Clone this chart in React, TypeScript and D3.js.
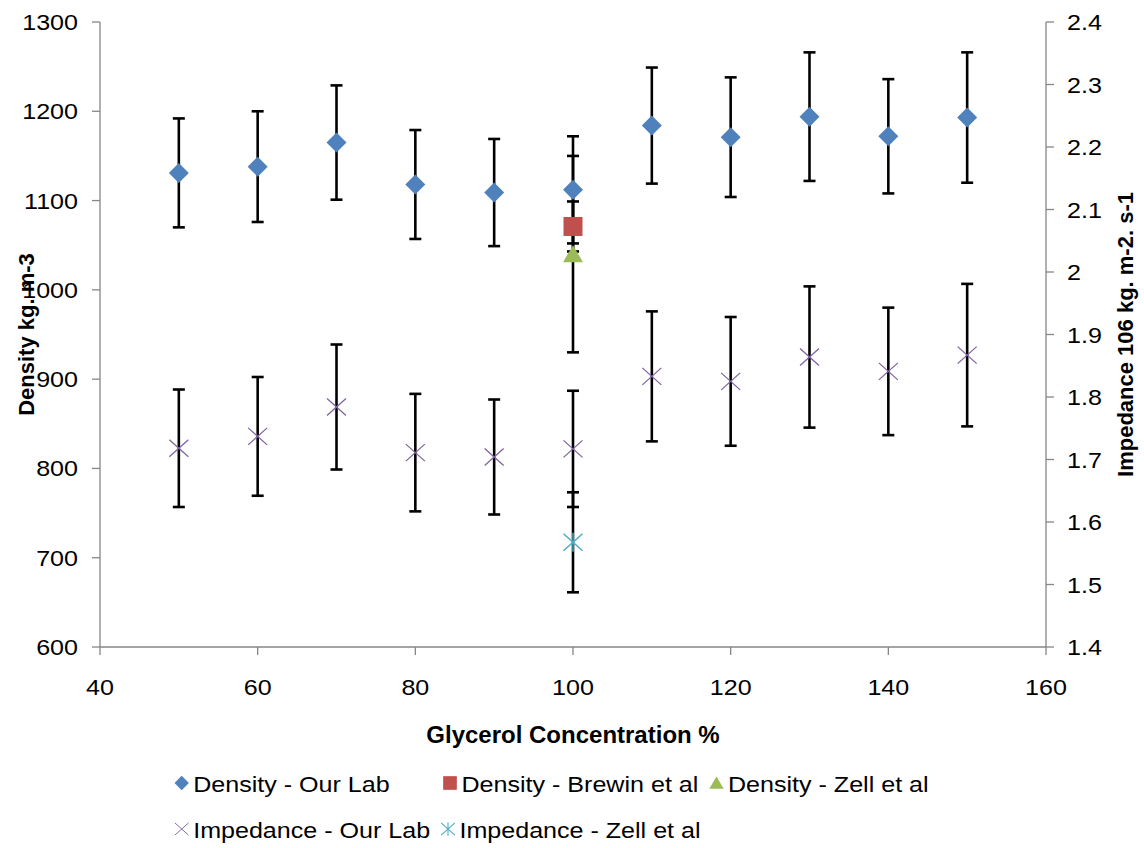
import React from "react";
import * as d3 from "d3";

// ---- data ----
const concentration = [50, 60, 70, 80, 90, 100, 110, 120, 130, 140, 150];
const densityOurLab = [1131, 1138, 1165, 1118, 1109, 1112, 1184, 1171, 1194, 1172, 1193];
const densityOurLabErr = [61, 62, 64, 61, 60, 60, 65, 67, 72, 64, 73];
const densityBrewin = [{ x: 100, y: 1071, err: 28 }];
const densityZell = [{ x: 100, y: 1040, err: 110 }];
const impedanceOurLab = [1.718, 1.737, 1.784, 1.711, 1.704, 1.717, 1.833, 1.825, 1.864, 1.841, 1.867];
const impedanceOurLabErr = [0.094, 0.095, 0.1, 0.094, 0.092, 0.093, 0.104, 0.103, 0.113, 0.102, 0.114];
const impedanceZell = [{ x: 100, y: 1.5675, err: 0.08 }];

const xTicks = [40, 60, 80, 100, 120, 140, 160];
const yLeftTicks = [600, 700, 800, 900, 1000, 1100, 1200, 1300];
const yRightTicks = [1.4, 1.5, 1.6, 1.7, 1.8, 1.9, 2, 2.1, 2.2, 2.3, 2.4];

const COLORS = {
  density: "#4F81BD",
  brewin: "#C0504D",
  zell: "#9BBB59",
  impedance: "#8064A2",
  impZell: "#4BACC6",
  axis: "#868686",
};

const FONT = "'Liberation Sans', Arial, sans-serif";

// ---- layout ----
const W = 1144;
const H = 848;
const plot = { left: 100, right: 1046, top: 22, bottom: 647 };

const x = d3.scaleLinear().domain([40, 160]).range([plot.left, plot.right]);
const yL = d3.scaleLinear().domain([600, 1300]).range([plot.bottom, plot.top]);
const yR = d3.scaleLinear().domain([1.4, 2.4]).range([plot.bottom, plot.top]);

type Shape = "diamond" | "square" | "triangle" | "x" | "star";

function Marker({ shape, cx, cy }: { shape: Shape; cx: number; cy: number }) {
  const t = `translate(${cx},${cy})`;
  if (shape === "diamond")
    return <path transform={t} d="M0,-10L10,0L0,10L-10,0Z" fill={COLORS.density} />;
  if (shape === "square")
    return <rect transform={t} x={-9.5} y={-9.5} width={19} height={19} fill={COLORS.brewin} />;
  if (shape === "triangle")
    return <path transform={t} d="M0,-9L10,8L-10,8Z" fill={COLORS.zell} />;
  if (shape === "x")
    return (
      <path transform={t} d="M-9.5,-8.5L9.5,8.5M-9.5,8.5L9.5,-8.5" stroke={COLORS.impedance} strokeWidth={1.3} fill="none" />
    );
  return (
    <path
      transform={t}
      d="M-9.5,-8.5L9.5,8.5M-9.5,8.5L9.5,-8.5M0,-9.5L0,9.5"
      stroke={COLORS.impZell}
      strokeWidth={1.5}
      fill="none"
    />
  );
}

function ErrorBar({ px, y0, y1 }: { px: number; y0: number; y1: number }) {
  const cap = 6;
  return (
    <g stroke="#000" strokeWidth={2.6} fill="none">
      <line x1={px} x2={px} y1={y0} y2={y1} />
      <line x1={px - cap} x2={px + cap} y1={y0} y2={y0} />
      <line x1={px - cap} x2={px + cap} y1={y1} y2={y1} />
    </g>
  );
}

function HText({ x: tx, y: ty, anchor, children, size = 22, sx = 1.14, weight = "normal" }: any) {
  return (
    <text
      transform={`translate(${tx},${ty}) scale(${sx},1)`}
      textAnchor={anchor}
      fontFamily={FONT}
      fontSize={size}
      fontWeight={weight}
      fill="#000"
    >
      {children}
    </text>
  );
}

export default function App() {
  const densPts = concentration.map((c, i) => ({ x: c, y: densityOurLab[i], err: densityOurLabErr[i] }));
  const impPts = concentration.map((c, i) => ({ x: c, y: impedanceOurLab[i], err: impedanceOurLabErr[i] }));

  const legendRow1 = [
    { shape: "diamond" as Shape, label: "Density - Our Lab", lx: 181.7, ly: 783 },
    { shape: "square" as Shape, label: "Density - Brewin et al", lx: 450, ly: 783 },
    { shape: "triangle" as Shape, label: "Density - Zell et al", lx: 716.5, ly: 783 },
    { shape: "x" as Shape, label: "Impedance - Our Lab", lx: 181.7, ly: 829 },
    { shape: "star" as Shape, label: "Impedance - Zell et al", lx: 448, ly: 829 },
  ];

  return (
    <svg
      width={W}
      height={H}
      viewBox={`0 0 ${W} ${H}`}
      style={{ position: "absolute", left: 0, top: 0, background: "#fff" }}
    >
      <rect width={W} height={H} fill="#fff" />

      {/* axes */}
      <g stroke={COLORS.axis} strokeWidth={1.3} fill="none">
        <line x1={plot.left} x2={plot.left} y1={plot.top} y2={plot.bottom} />
        <line x1={plot.right} x2={plot.right} y1={plot.top} y2={plot.bottom} />
        <line x1={plot.left} x2={plot.right} y1={plot.bottom} y2={plot.bottom} />
        {yLeftTicks.map((t) => (
          <line key={"l" + t} x1={plot.left - 8} x2={plot.left} y1={yL(t)} y2={yL(t)} />
        ))}
        {yRightTicks.map((t) => (
          <line key={"r" + t} x1={plot.right} x2={plot.right + 8} y1={yR(t)} y2={yR(t)} />
        ))}
        {xTicks.map((t) => (
          <line key={"x" + t} x1={x(t)} x2={x(t)} y1={plot.bottom} y2={plot.bottom + 8} />
        ))}
      </g>

      {/* tick labels */}
      {yLeftTicks.map((t) => (
        <HText key={"lt" + t} x={78} y={yL(t) + 8} anchor="end">
          {String(t)}
        </HText>
      ))}
      {yRightTicks.map((t) => (
        <HText key={"rt" + t} x={1067} y={yR(t) + 8} anchor="start">
          {d3.format("~g")(t)}
        </HText>
      ))}
      {xTicks.map((t) => (
        <HText key={"xt" + t} x={x(t)} y={695} anchor="middle">
          {String(t)}
        </HText>
      ))}

      {/* axis titles */}
      <HText x={(plot.left + plot.right) / 2} y={743} anchor="middle" size={24} sx={1.0} weight="bold">
        Glycerol Concentration %
      </HText>
      <text
        transform={`translate(34,${(plot.top + plot.bottom) / 2}) rotate(-90)`}
        textAnchor="middle"
        fontFamily={FONT}
        fontSize={22}
        fontWeight="bold"
      >
        Density kg. m-3
      </text>
      <text
        transform={`translate(1133,${(plot.top + plot.bottom) / 2}) rotate(-90)`}
        textAnchor="middle"
        fontFamily={FONT}
        fontSize={22}
        fontWeight="bold"
      >
        Impedance 106 kg. m-2. s-1
      </text>

      {/* error bars */}
      {densPts.map((p, i) => (
        <ErrorBar key={"de" + i} px={x(p.x)} y0={yL(p.y + p.err)} y1={yL(p.y - p.err)} />
      ))}
      {densityBrewin.map((p, i) => (
        <ErrorBar key={"be" + i} px={x(p.x)} y0={yL(p.y + p.err)} y1={yL(p.y - p.err)} />
      ))}
      {densityZell.map((p, i) => (
        <ErrorBar key={"ze" + i} px={x(p.x)} y0={yL(p.y + p.err)} y1={yL(p.y - p.err)} />
      ))}
      {impPts.map((p, i) => (
        <ErrorBar key={"ie" + i} px={x(p.x)} y0={yR(p.y + p.err)} y1={yR(p.y - p.err)} />
      ))}
      {impedanceZell.map((p, i) => (
        <ErrorBar key={"ize" + i} px={x(p.x)} y0={yR(p.y + p.err)} y1={yR(p.y - p.err)} />
      ))}

      {/* markers */}
      {densPts.map((p, i) => (
        <Marker key={"dm" + i} shape="diamond" cx={x(p.x)} cy={yL(p.y)} />
      ))}
      {densityBrewin.map((p, i) => (
        <Marker key={"bm" + i} shape="square" cx={x(p.x)} cy={yL(p.y)} />
      ))}
      {densityZell.map((p, i) => (
        <Marker key={"zm" + i} shape="triangle" cx={x(p.x)} cy={yL(p.y)} />
      ))}
      {impPts.map((p, i) => (
        <Marker key={"im" + i} shape="x" cx={x(p.x)} cy={yR(p.y)} />
      ))}
      {impedanceZell.map((p, i) => (
        <Marker key={"izm" + i} shape="star" cx={x(p.x)} cy={yR(p.y)} />
      ))}

      {/* legend */}
      {legendRow1.map((l, i) => (
        <g key={"lg" + i}>
          <g transform={`translate(${l.lx},${l.ly}) scale(0.72)`}>
            <Marker shape={l.shape} cx={0} cy={0} />
          </g>
          <HText x={l.lx + 11.5} y={l.ly + 8.5} anchor="start">
            {l.label}
          </HText>
        </g>
      ))}
    </svg>
  );
}
